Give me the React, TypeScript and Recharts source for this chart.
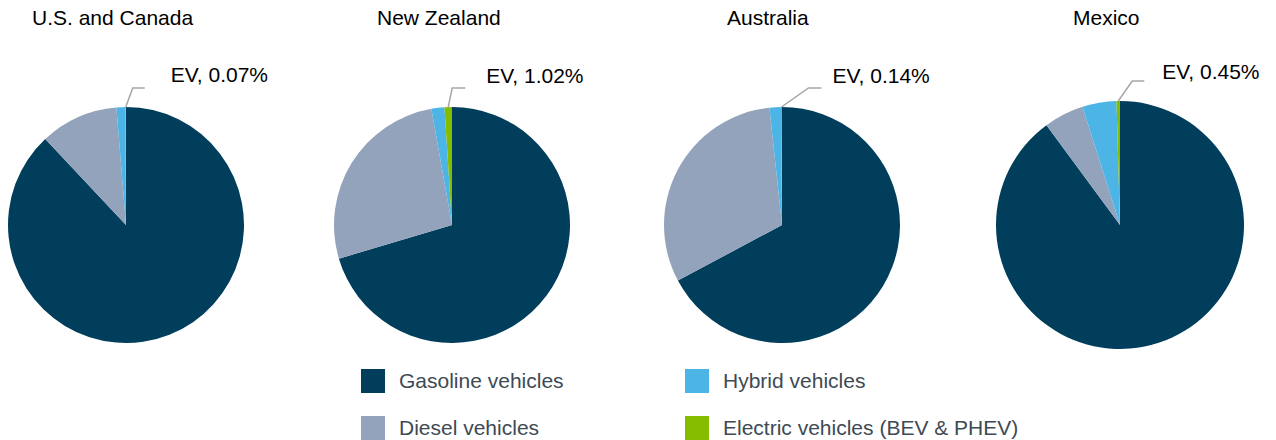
import React from 'react';
import { PieChart, Pie, Cell } from 'recharts';

const categories = ['Gasoline vehicles', 'Diesel vehicles', 'Hybrid vehicles', 'Electric vehicles (BEV & PHEV)'];
const regionNames = ['U.S. and Canada', 'New Zealand', 'Australia', 'Mexico'];
const usCanadaShares = [88.0, 10.7, 1.23, 0.07];
const newZealandShares = [70.4, 26.8, 1.78, 1.02];
const australiaShares = [67.2, 31.1, 1.56, 0.14];
const mexicoShares = [89.9, 5.2, 4.45, 0.45];

const seriesByRegion = [usCanadaShares, newZealandShares, australiaShares, mexicoShares];
const colors = ['#003E5C', '#93A3BB', '#4CB5E6', '#84BD00'];

const W = 1276;
const H = 440;
const FONT = '"Liberation Sans", Arial, sans-serif';

// layout per pie
const pieLayout = [
  { cx: 126, cy: 225, r: 118, titleX: 32 },
  { cx: 452, cy: 225, r: 118, titleX: 377 },
  { cx: 782, cy: 225, r: 118, titleX: 727 },
  { cx: 1120, cy: 225, r: 124, titleX: 1073 },
];
const labelLayout = [
  { dx: 7, dy: 19, len: 12, gap: 26, base: -6 },
  { dx: 4, dy: 19, len: 13, gap: 21, base: -5 },
  { dx: 27, dy: 19, len: 13, gap: 11, base: -5 },
  { dx: 14, dy: 20, len: 12, gap: 18, base: -2 },
];

const RAD = Math.PI / 180;

function makeLabel(regionIdx: number) {
  return (props: any) => {
    const { cx, cy, midAngle, outerRadius, index, value } = props;
    if (index !== 3) return null;
    const L = labelLayout[regionIdx];
    const sx = cx + outerRadius * Math.cos(-midAngle * RAD);
    const sy = cy + outerRadius * Math.sin(-midAngle * RAD);
    const ex = sx + L.dx;
    const ey = sy - L.dy;
    const fx = ex + L.len;
    return (
      <g>
        <polyline
          points={`${sx},${sy} ${ex},${ey} ${fx},${ey}`}
          fill="none"
          stroke="#A6A6A6"
          strokeWidth={1.5}
        />
        <text x={fx + L.gap} y={ey + L.base} fontSize={21} fontFamily={FONT} fill="#000" textAnchor="start">
          {`EV, ${Number(value).toFixed(2)}%`}
        </text>
      </g>
    );
  };
}

export default function App() {
  const datasets = seriesByRegion.map((vals) => vals.map((v, i) => ({ name: categories[i], value: v })));
  const legendItems = [
    { idx: 0, x: 361, y: 369 },
    { idx: 2, x: 685, y: 369 },
    { idx: 1, x: 361, y: 416 },
    { idx: 3, x: 685, y: 416 },
  ];
  return (
    <div style={{ position: 'absolute', left: 0, top: 0, width: W, height: H, background: '#fff', overflow: 'hidden' }}>
      <PieChart width={W} height={H} margin={{ top: 0, right: 0, bottom: 0, left: 0 }}>
        {datasets.map((data, ri) => (
          <Pie
            key={ri}
            data={data}
            dataKey="value"
            nameKey="name"
            cx={pieLayout[ri].cx}
            cy={pieLayout[ri].cy}
            outerRadius={pieLayout[ri].r}
            innerRadius={0}
            startAngle={90}
            endAngle={-270}
            stroke="none"
            isAnimationActive={false}
            label={makeLabel(ri)}
            labelLine={false}
          >
            {data.map((_, i) => (
              <Cell key={i} fill={colors[i]} />
            ))}
          </Pie>
        ))}
      </PieChart>
      <svg width={W} height={H} style={{ position: 'absolute', left: 0, top: 0, pointerEvents: 'none' }}>
        {regionNames.map((n, i) => (
          <text key={n} x={pieLayout[i].titleX} y={25} fontSize={21} fontFamily={FONT} fill="#000">
            {n}
          </text>
        ))}
        {legendItems.map((it) => (
          <g key={it.idx}>
            <rect x={it.x} y={it.y} width={24} height={24} fill={colors[it.idx]} />
            <text x={it.x + 38} y={it.y + 19} fontSize={21} fontFamily={FONT} fill="#3E4A54">
              {categories[it.idx]}
            </text>
          </g>
        ))}
      </svg>
    </div>
  );
}
